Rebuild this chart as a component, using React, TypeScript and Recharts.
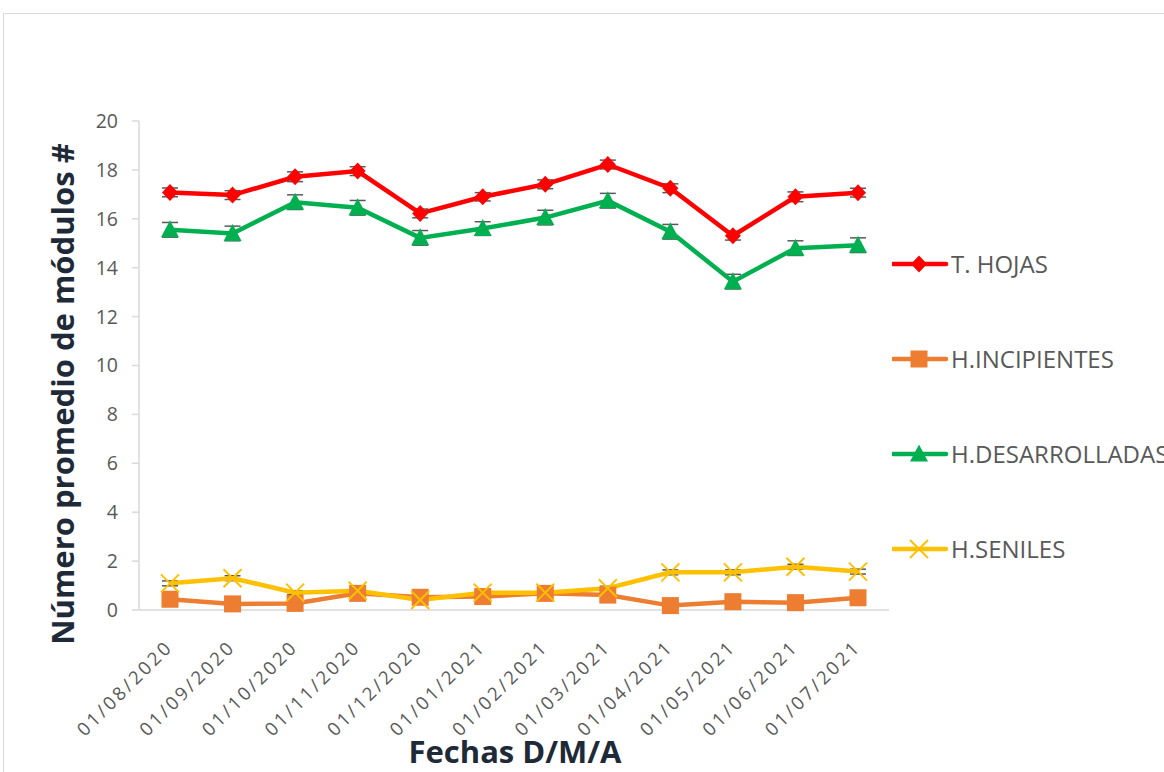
import React from "react";
import { LineChart, Line, XAxis, YAxis, ErrorBar, Legend, Label } from "recharts";

const categories = [
  "01/08/2020", "01/09/2020", "01/10/2020", "01/11/2020", "01/12/2020", "01/01/2021",
  "01/02/2021", "01/03/2021", "01/04/2021", "01/05/2021", "01/06/2021", "01/07/2021",
];
const tHojas = [17.08, 16.97, 17.72, 17.95, 16.22, 16.9, 17.41, 18.22, 17.25, 15.31, 16.9, 17.07];
const hIncipientes = [0.44, 0.25, 0.27, 0.68, 0.52, 0.55, 0.68, 0.61, 0.18, 0.34, 0.3, 0.5];
const hDesarrolladas = [15.55, 15.4, 16.68, 16.45, 15.22, 15.6, 16.05, 16.74, 15.47, 13.43, 14.8, 14.92];
const hSeniles = [1.09, 1.3, 0.71, 0.79, 0.41, 0.71, 0.71, 0.89, 1.54, 1.54, 1.77, 1.57];
const errHojas = [0.18, 0.18, 0.2, 0.18, 0.18, 0.17, 0.18, 0.18, 0.18, 0.18, 0.2, 0.18];
const errIncipientes = [0.08, 0.08, 0.08, 0.08, 0.08, 0.08, 0.08, 0.08, 0.08, 0.08, 0.08, 0.08];
const errDesarrolladas = [0.3, 0.3, 0.3, 0.3, 0.3, 0.28, 0.3, 0.3, 0.3, 0.3, 0.3, 0.3];
const errSeniles = [0.1, 0.1, 0.08, 0.08, 0.08, 0.08, 0.08, 0.08, 0.1, 0.1, 0.1, 0.1];
const yTicks = [0, 2, 4, 6, 8, 10, 12, 14, 16, 18, 20];

const data = categories.map((c, i) => ({
  fecha: c,
  hojas: tHojas[i],
  incip: hIncipientes[i],
  desar: hDesarrolladas[i],
  senil: hSeniles[i],
  eHojas: errHojas[i],
  eIncip: errIncipientes[i],
  eDesar: errDesarrolladas[i],
  eSenil: errSeniles[i],
}));

const FONT = "'Open Sans', sans-serif";
const RED = "#ff0000";
const ORANGE = "#ed7d31";
const GREEN = "#00b050";
const YELLOW = "#ffc000";

const Diamond = ({ cx, cy }: any) =>
  cx == null ? null : (
    <polygon points={`${cx},${cy - 8.5} ${cx + 8},${cy} ${cx},${cy + 8.5} ${cx - 8},${cy}`} fill={RED} />
  );
const Square = ({ cx, cy }: any) =>
  cx == null ? null : <rect x={cx - 8.5} y={cy - 8.5} width={17} height={17} fill={ORANGE} />;
const Triangle = ({ cx, cy }: any) =>
  cx == null ? null : (
    <polygon points={`${cx},${cy - 9.5} ${cx + 9},${cy + 7.5} ${cx - 9},${cy + 7.5}`} fill={GREEN} />
  );
const Cross = ({ cx, cy }: any) =>
  cx == null ? null : (
    <g stroke={YELLOW} strokeWidth={2}>
      <line x1={cx - 9} y1={cy - 9} x2={cx + 9} y2={cy + 9} />
      <line x1={cx - 9} y1={cy + 9} x2={cx + 9} y2={cy - 9} />
    </g>
  );

const series = [
  { name: "T. HOJAS", color: RED, Marker: Diamond },
  { name: "H.INCIPIENTES", color: ORANGE, Marker: Square },
  { name: "H.DESARROLLADAS", color: GREEN, Marker: Triangle },
  { name: "H.SENILES", color: YELLOW, Marker: Cross },
];

const XTick = ({ x, y, payload }: any) => (
  <g transform={`translate(${x + 4},${y + 30})`}>
    <text
      x={0}
      y={0}
      textAnchor="end"
      transform="rotate(-45)"
      fill="#595959"
      fontSize={18.5}
      fontFamily={FONT}
      letterSpacing={2.8}
    >
      {payload.value}
    </text>
  </g>
);

const LegendContent = () => (
  <div style={{ position: "relative", width: 300 }}>
    {series.map((s, i) => (
      <div
        key={s.name}
        style={{
          position: "absolute",
          left: 0,
          top: 264 + i * 95 - 15,
          height: 30,
          display: "flex",
          alignItems: "center",
          whiteSpace: "nowrap",
        }}
      >
        <svg width={59} height={30} style={{ display: "block" }}>
          <line x1={1} y1={15} x2={54} y2={15} stroke={s.color} strokeWidth={4.5} strokeLinecap="round" />
          <s.Marker cx={27} cy={15} />
        </svg>
        <span style={{ fontFamily: FONT, fontSize: 24, color: "#595959", lineHeight: "30px" }}>{s.name}</span>
      </div>
    ))}
  </div>
);

export default function App() {
  return (
    <div style={{ position: "absolute", left: 0, top: 0, width: 1164, height: 772, overflow: "hidden", background: "#fff" }}>
      <div
        style={{
          position: "absolute",
          left: 3,
          top: 13,
          width: 1200,
          height: 800,
          border: "1px solid #d9d9d9",
          boxSizing: "border-box",
        }}
      />
      <div style={{ position: "absolute", left: 0, top: 0 }}>
        <LineChart width={1164} height={772} data={data} margin={{ top: 121, right: 275, bottom: 0, left: 0 }}>
          <XAxis
            dataKey="fecha"
            height={162}
            padding={{ left: 31, right: 31 }}
            axisLine={{ stroke: "#d9d9d9", strokeWidth: 1.5 }}
            tickLine={false}
            tick={<XTick />}
            interval={0}
          >
            <Label
              content={() => (
                <text x={515} y={763} textAnchor="middle" fontFamily={FONT} fontWeight={700} fontSize={31} fill="#1f2a38">
                  Fechas D/M/A
                </text>
              )}
            />
          </XAxis>
          <YAxis
            width={139}
            domain={[0, 20]}
            ticks={yTicks}
            interval={0}
            axisLine={{ stroke: "#d9d9d9", strokeWidth: 1.5 }}
            tickLine={{ stroke: "#d9d9d9", strokeWidth: 1.5 }}
            tickSize={7}
            tickMargin={14}
            tick={{ fill: "#595959", fontSize: 19.5, fontFamily: FONT }}
          >
            <Label
              content={() => (
                <text
                  x={62}
                  y={394}
                  transform="rotate(-90, 62, 394)"
                  textAnchor="middle"
                  dominantBaseline="central"
                  fontFamily={FONT}
                  fontWeight={700}
                  fontSize={31}
                  fill="#1f2a38"
                >
                  Número promedio de módulos #
                </text>
              )}
            />
          </YAxis>
          <Legend content={<LegendContent />} wrapperStyle={{ position: "absolute", left: 892, top: 0, width: 300 }} />
          <Line type="linear" dataKey="hojas" name="T. HOJAS" stroke={RED} strokeWidth={4.5} dot={<Diamond />} activeDot={false} isAnimationActive={false}>
            <ErrorBar dataKey="eHojas" width={8} stroke="#595959" strokeWidth={1.5} direction="y" isAnimationActive={false} />
          </Line>
          <Line type="linear" dataKey="incip" name="H.INCIPIENTES" stroke={ORANGE} strokeWidth={4.5} dot={<Square />} activeDot={false} isAnimationActive={false}>
            <ErrorBar dataKey="eIncip" width={8} stroke="#595959" strokeWidth={1.5} direction="y" isAnimationActive={false} />
          </Line>
          <Line type="linear" dataKey="desar" name="H.DESARROLLADAS" stroke={GREEN} strokeWidth={4.5} dot={<Triangle />} activeDot={false} isAnimationActive={false}>
            <ErrorBar dataKey="eDesar" width={8} stroke="#595959" strokeWidth={1.5} direction="y" isAnimationActive={false} />
          </Line>
          <Line type="linear" dataKey="senil" name="H.SENILES" stroke={YELLOW} strokeWidth={4.5} dot={<Cross />} activeDot={false} isAnimationActive={false}>
            <ErrorBar dataKey="eSenil" width={8} stroke="#595959" strokeWidth={1.5} direction="y" isAnimationActive={false} />
          </Line>
        </LineChart>
      </div>
    </div>
  );
}
